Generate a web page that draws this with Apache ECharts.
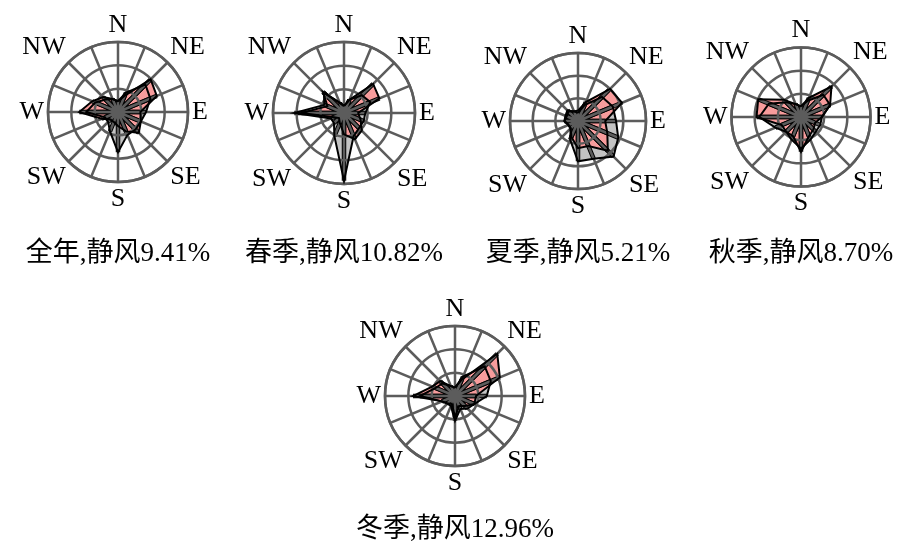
<!DOCTYPE html>
<html>
<head>
<meta charset="utf-8">
<script src="https://cdn.jsdelivr.net/npm/echarts@6/dist/echarts.min.js"></script>
<style>
  html, body { margin: 0; padding: 0; background: #fff; }
  #chart { width: 907px; height: 545px; }
</style>
</head>
<body>
<div id="chart"></div>
<script>
// 16 compass directions, clockwise from north
const directions = ['N','NNE','NE','ENE','E','ESE','SE','SSE','S','SSW','SW','WSW','W','WNW','NW','NNW'];
const shownLabels = ['N','NE','E','SE','S','SW','W','NW'];

// Wind-direction frequency (%) per season, same order as `directions`
const annualFreq = [2.3, 3.8, 9.9, 9.0, 4.8, 5.3, 6.3, 4.5, 3.0, 2.3, 2.3, 3.8, 8.3, 6.0, 4.5, 3.0];
const springFreq = [1.5, 3.0, 8.7, 8.1, 3.0, 3.8, 5.3, 6.0, 4.5, 2.3, 1.5, 2.3, 9.0, 3.8, 6.3, 2.3];
const summerFreq = [2.3, 4.5, 10.0, 10.5, 6.0, 7.0, 9.3, 6.0, 6.0, 3.8, 2.3, 2.3, 3.0, 3.0, 3.3, 2.3];
const autumnFreq = [2.3, 4.5, 9.3, 6.8, 4.5, 3.3, 3.8, 4.5, 7.5, 4.5, 4.5, 4.5, 9.6, 10.0, 5.3, 3.0];
const winterFreq = [1.8, 3.8, 12.8, 10.4, 4.5, 4.5, 3.0, 2.3, 4.5, 1.8, 2.3, 3.0, 9.0, 5.3, 4.5, 2.3];

// Second rose (grey) per season
const annualSpeed = [2.3, 4.5, 8.3, 7.5, 6.0, 5.3, 5.3, 5.3, 8.6, 4.5, 3.0, 3.0, 6.8, 5.3, 3.8, 3.0];
const springSpeed = [1.5, 3.0, 5.3, 6.0, 4.5, 4.5, 4.5, 5.3, 14.3, 5.3, 3.0, 3.0, 10.5, 4.5, 6.0, 2.3];
const summerSpeed = [1.8, 3.8, 7.5, 8.3, 8.4, 9.6, 11.1, 9.0, 8.9, 4.5, 2.3, 2.3, 3.0, 2.7, 3.0, 2.3];
const autumnSpeed = [2.3, 3.8, 6.8, 6.8, 4.5, 4.5, 4.5, 5.3, 6.8, 5.3, 4.5, 6.0, 9.0, 7.5, 4.5, 3.0];
const winterSpeed = [1.8, 4.5, 9.0, 8.3, 6.8, 4.5, 3.8, 3.0, 5.3, 2.3, 2.3, 3.0, 7.5, 4.5, 3.8, 2.3];

const captions = ['全年,静风9.41%', '春季,静风10.82%', '夏季,静风5.21%', '秋季,静风8.70%', '冬季,静风12.96%'];

const roses = [
  { freq: annualFreq, speed: annualSpeed, center: [118, 112], radius: 70, captionY: 254 },
  { freq: springFreq, speed: springSpeed, center: [344, 113], radius: 71, captionY: 254 },
  { freq: summerFreq, speed: summerSpeed, center: [578, 121], radius: 68, captionY: 254 },
  { freq: autumnFreq, speed: autumnSpeed, center: [801, 117], radius: 69.5, captionY: 254 },
  { freq: winterFreq, speed: winterSpeed, center: [455, 396], radius: 70, captionY: 530 }
];

const STEP = 360 / directions.length;
const GRID = '#5c5c5c';
const PINK = '#F79C9C';
const GREY = '#C3C3C3';

// closed polygon in [radius, angle] pairs
function outline(values) {
  const pts = values.map((v, i) => [v, i * STEP]);
  pts.push([values[0], 360]);
  return pts;
}
// radial strokes from the centre to each vertex
function star(values) {
  const pts = [];
  values.forEach((v, i) => { pts.push([0, i * STEP], [v, i * STEP]); });
  pts.push([0, 0]);
  return pts;
}

const polar = [], angleAxis = [], radiusAxis = [], series = [], graphic = [];

roses.forEach((r, k) => {
  polar.push({ center: r.center, radius: r.radius });
  angleAxis.push({
    polarIndex: k, type: 'value', min: 0, max: 360, interval: STEP,
    startAngle: 90, clockwise: true, z: 5,
    axisLine: { show: true, lineStyle: { color: GRID, width: 2.5 } },
    axisTick: { show: false },
    splitLine: { show: true, lineStyle: { color: GRID, width: 2.5 } },
    axisLabel: {
      margin: 4, color: '#000', fontFamily: 'Liberation Serif', fontSize: 26,
      formatter: function (val) {
        if (val >= 360) return '';
        const name = directions[Math.round(val / STEP) % directions.length];
        return shownLabels.indexOf(name) >= 0 ? name : '';
      }
    }
  });
  radiusAxis.push({
    polarIndex: k, type: 'value', min: 0, max: 15, interval: 5, z: 5,
    axisLine: { show: false }, axisTick: { show: false }, axisLabel: { show: false },
    splitLine: { show: true, lineStyle: { color: GRID, width: 2.5 } }
  });

  [[r.speed, GREY], [r.freq, PINK]].forEach(([vals, col]) => {
    series.push({
      type: 'line', coordinateSystem: 'polar', polarIndex: k, z: 1,
      data: outline(vals), symbol: 'none', silent: true,
      lineStyle: { width: 0 }, areaStyle: { color: col, opacity: 1 }
    });
    series.push({
      type: 'line', coordinateSystem: 'polar', polarIndex: k, z: 2,
      data: star(vals), symbol: 'none', silent: true,
      lineStyle: { color: '#000', width: 4.5 }
    });
  });
  [r.speed, r.freq].forEach(vals => {
    series.push({
      type: 'line', coordinateSystem: 'polar', polarIndex: k, z: 8,
      data: outline(vals), symbol: 'none', silent: true,
      lineStyle: { color: '#000', width: 2, join: 'miter' }
    });
  });

  graphic.push({
    type: 'text', x: r.center[0], y: r.captionY,
    style: {
      text: captions[k], fill: '#000', fontSize: 27,
      fontFamily: '"Liberation Serif", "Noto Sans CJK SC"',
      align: 'center', verticalAlign: 'middle'
    }
  });
});

const chart = echarts.init(document.getElementById('chart'), null, { renderer: 'canvas' });
chart.setOption({
  animation: false,
  backgroundColor: '#fff',
  polar, angleAxis, radiusAxis, series, graphic
});
</script>
</body>
</html>
